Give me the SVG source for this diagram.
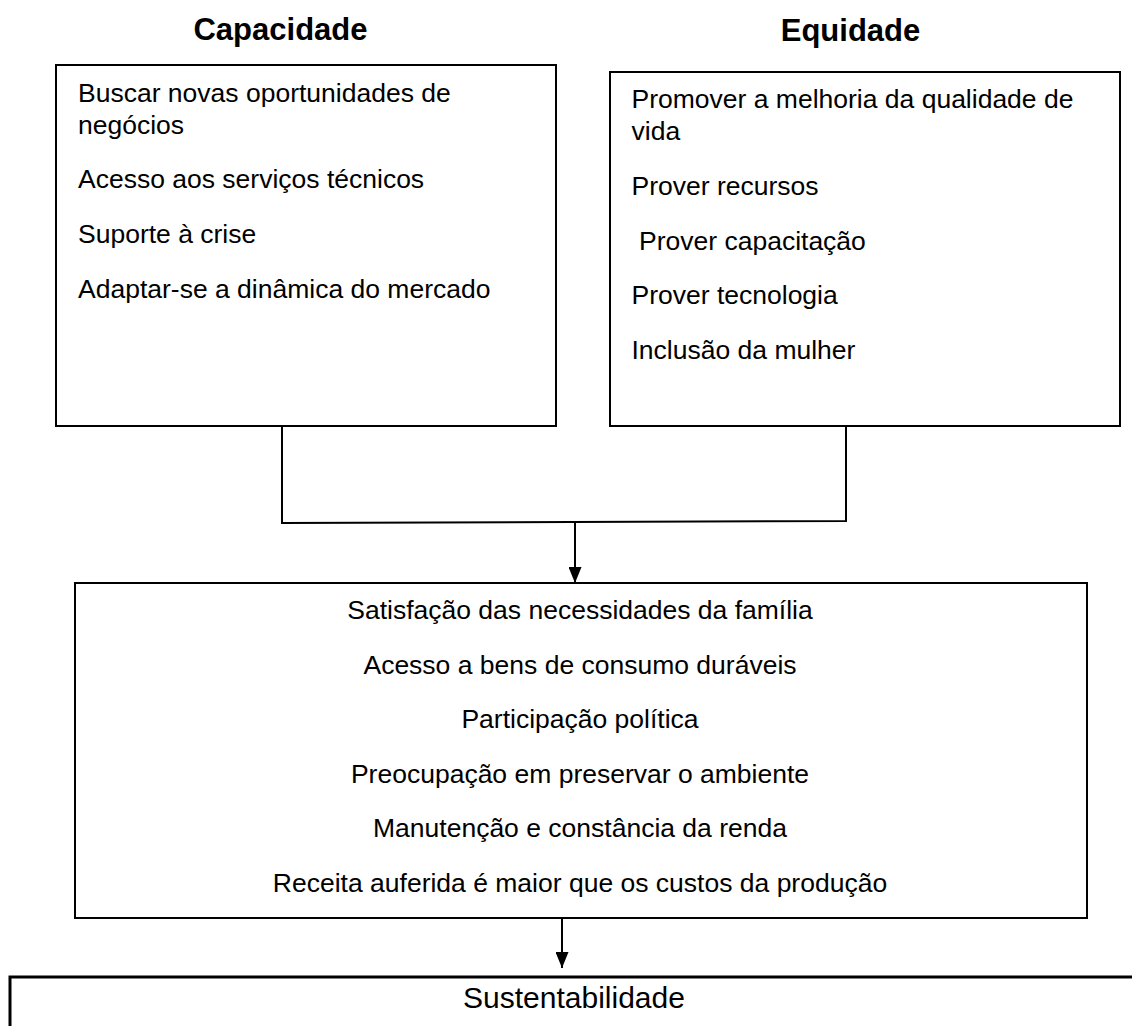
<svg xmlns="http://www.w3.org/2000/svg" width="1132" height="1026" viewBox="0 0 1132 1026">
<defs>
<style>
.box{fill:#fff;stroke:#000;stroke-width:2}
.t{font-family:"Liberation Sans",Arial,sans-serif;font-size:26.5px;fill:#000}
.c{text-anchor:middle}
.h{font-family:"Liberation Sans",Arial,sans-serif;font-size:31px;font-weight:bold;fill:#000;text-anchor:middle}
.ln{fill:none;stroke:#000;stroke-width:2}
</style>
<marker id="ah" viewBox="0 0 16 13" refX="16" refY="6.5" markerWidth="16" markerHeight="13" markerUnits="userSpaceOnUse" orient="auto">
<path d="M0,0 L16,6.5 L0,13 Z" fill="#000"/>
</marker>
</defs>
<rect width="1132" height="1026" fill="#fff"/>
<g id="title-capacidade"><text class="h" x="280.5" y="40">Capacidade</text></g>
<g id="title-equidade"><text class="h" x="850.5" y="40.5">Equidade</text></g>
<g id="node-capacidade">
<rect class="box" x="56" y="65" width="500" height="361"/>
<text class="t" x="78" y="101.5">Buscar novas oportunidades de</text>
<text class="t" x="78" y="133.5">negócios</text>
<text class="t" x="78" y="188">Acesso aos serviços técnicos</text>
<text class="t" x="78" y="243">Suporte à crise</text>
<text class="t" x="78" y="297.5">Adaptar-se a dinâmica do mercado</text>
</g>
<g id="node-equidade">
<rect class="box" x="610" y="72" width="510" height="354"/>
<text class="t" x="631.5" y="108">Promover a melhoria da qualidade de</text>
<text class="t" x="631.5" y="140">vida</text>
<text class="t" x="631.5" y="195">Prover recursos</text>
<text class="t" x="639" y="249.5">Prover capacitação</text>
<text class="t" x="631.5" y="304">Prover tecnologia</text>
<text class="t" x="631.5" y="358.5">Inclusão da mulher</text>
</g>
<g id="node-resultados">
<rect class="box" x="75" y="583" width="1012" height="335"/>
<text class="t c" x="580" y="619">Satisfação das necessidades da família</text>
<text class="t c" x="580" y="673.5">Acesso a bens de consumo duráveis</text>
<text class="t c" x="580" y="728">Participação política</text>
<text class="t c" x="580" y="782.5">Preocupação em preservar o ambiente</text>
<text class="t c" x="580" y="837">Manutenção e constância da renda</text>
<text class="t c" x="580" y="891.5">Receita auferida é maior que os custos da produção</text>
</g>
<g id="node-sustentabilidade">
<rect x="10" y="977" width="1140" height="80" fill="#fff" stroke="#000" stroke-width="3"/>
<text x="574" y="1008" font-family="Liberation Sans, Arial, sans-serif" font-size="30px" text-anchor="middle" fill="#000">Sustentabilidade</text>
</g>
<g id="connectors">
<polyline class="ln" points="282,426 282,523 846,521 846,426"/>
<line class="ln" x1="575" y1="522" x2="575" y2="583" marker-end="url(#ah)"/>
<line class="ln" x1="562" y1="918" x2="562" y2="968" marker-end="url(#ah)"/>
</g>
</svg>
